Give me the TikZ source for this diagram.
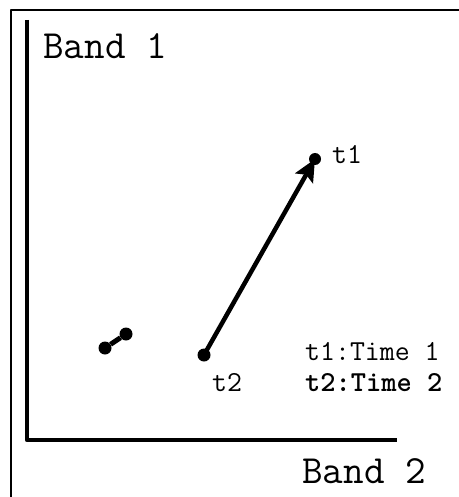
\documentclass[tikz,border=0pt]{standalone}
\usepackage{fontspec}
\usetikzlibrary{arrows.meta,positioning}
\tikzset{dot/.style={circle,fill=black,inner sep=0pt,minimum size=13pt},
  bandlbl/.style={font=\ttfamily\fontsize{40}{40}\selectfont,inner sep=0pt},
  timelbl/.style={font=\ttfamily\fontsize{29}{29}\selectfont,inner sep=0pt}}
\begin{document}
\begin{tikzpicture}[x=1pt,y=-1pt,>=Stealth,line join=round]
\useasboundingbox (0,0) rectangle (458,497);
% --- frame and axes
\draw[line width=2pt] (11,510) -- (11,10) -- (470,10);
\coordinate (top) at (27,20);
\coordinate (orig) at (27,440);
\coordinate (right) at (397,440);
\draw[line width=4.5pt] (top) -- (orig) -- (right);
\node[bandlbl,anchor=west] (b1) at (43,46) {Band 1};
\node[bandlbl,anchor=west] (b2) at (302,471) {Band 2};
% --- pixels
\node[dot] (p1) at (105,348) {};
\node[dot] (p2) at (126,334) {};
\draw[line width=5pt] (p1) -- (p2);
\node[dot] (t2) at (204,355) {};
\node[dot,minimum size=12pt] (t1) at (315,159) {};
\draw[-{Stealth[length=22pt,width=20pt,inset=4pt]},line width=4.5pt] (t2.center) -- (t1.center);
\node[timelbl,anchor=west] (l1) at (332,155) {t1};
\node[timelbl,anchor=west] (l2) at (212,383) {t2};
% --- legend
\node[timelbl,anchor=west] (k1) at (305,352) {t1:Time 1};
\node[timelbl,below=12pt of k1.south west,anchor=north west,font=\ttfamily\bfseries\fontsize{29}{29}\selectfont] (k2) {t2:Time 2};
\end{tikzpicture}
\end{document}
